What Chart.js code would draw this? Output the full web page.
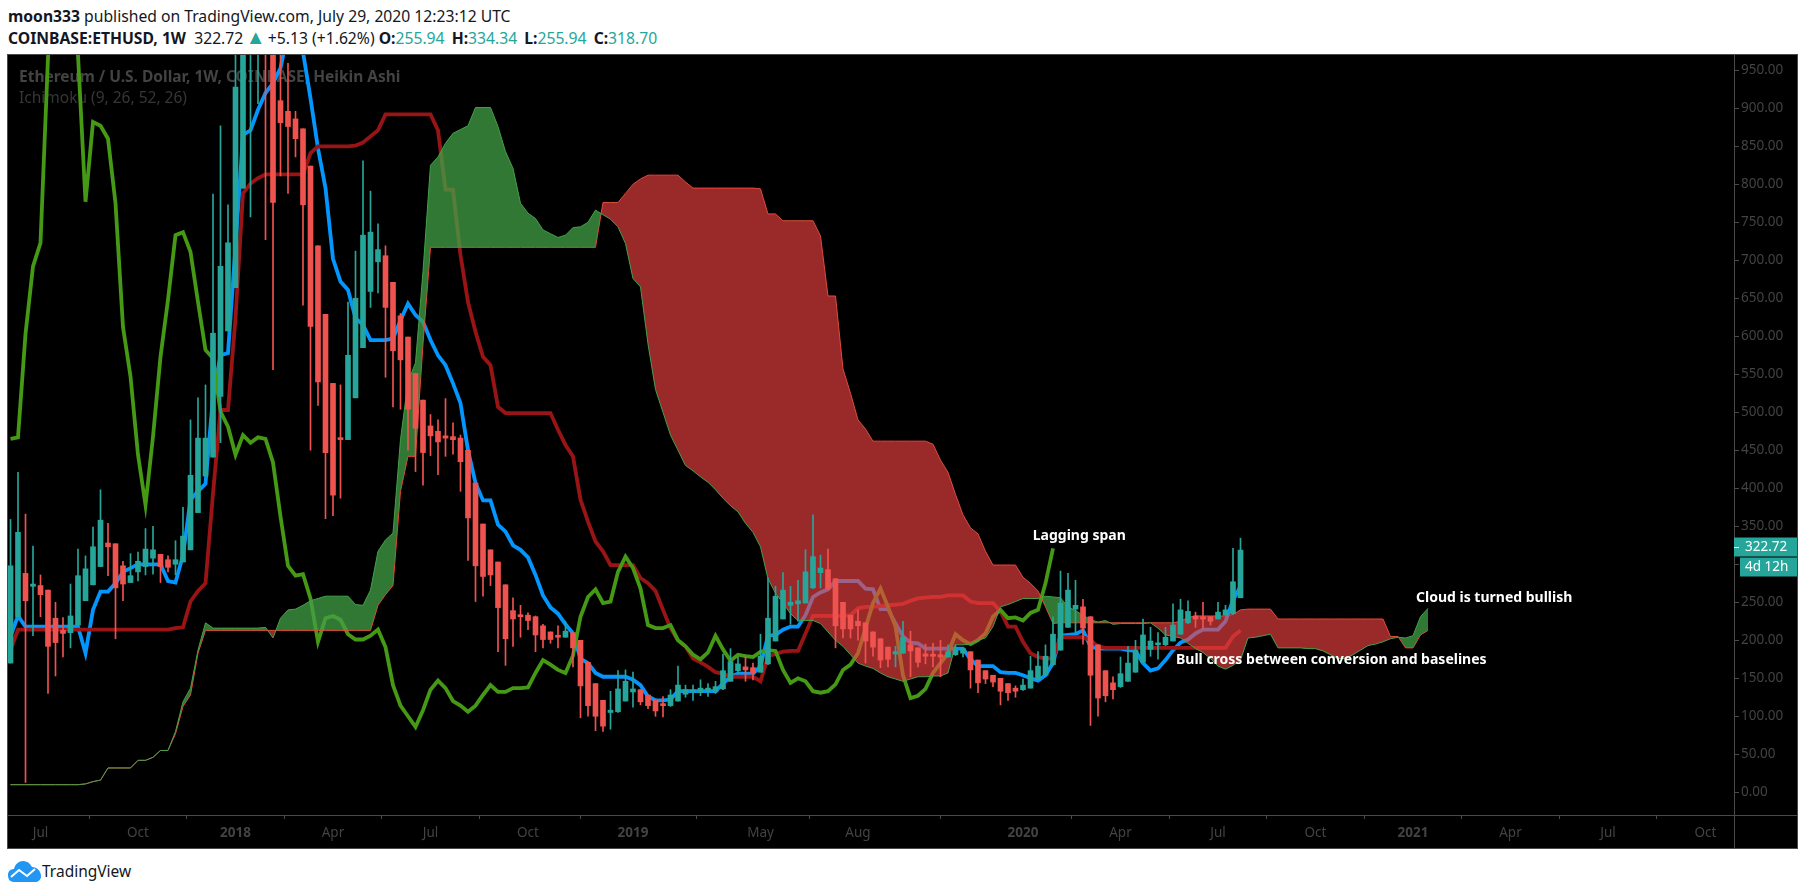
<!DOCTYPE html>
<html>
<head>
<meta charset="utf-8">
<title>ETHUSD Ichimoku</title>
<script src="https://cdn.jsdelivr.net/npm/chart.js@4"></script>
<style>
  html, body { margin: 0; padding: 0; background: #fff; overflow: hidden; }
  body { width: 1805px; height: 895px; position: relative; font-family: "Noto Sans", sans-serif; color: #131722; }
  .line { position: absolute; left: 8px; white-space: nowrap; font-size: 15.7px; line-height: 20px; }
  .teal { color: #26a69a; }
  .tri { font-size: 20px; line-height: 0; margin: 0 -1.7px; }
  .gap { margin-left: 3px; }
  b { font-weight: 700; }
  #frame { position: absolute; left: 7px; top: 54px; width: 1789px; height: 793px; background: #000; border: 1px solid #4a4a4a; }
  #chart { display: block; }
  #logo { position: absolute; left: 8px; top: 861px; }
  #logoText { position: absolute; left: 42px; top: 860px; font-size: 15.5px; line-height: 22px; }
</style>
</head>
<body>
<div class="line" style="top:6px"><b>moon333</b> published on TradingView.com, July 29, 2020 12:23:12 UTC</div>
<div class="line" style="top:28px"><b>COINBASE:ETHUSD, 1W</b>&nbsp; 322.72 <span class="teal tri">&#9650;</span> +5.13 (+1.62%) <b>O:</b><span class="teal">255.94</span> <b class="gap">H:</b><span class="teal">334.34</span> <b class="gap">L:</b><span class="teal">255.94</span> <b class="gap">C:</b><span class="teal">318.70</span></div>
<div id="frame"><canvas id="chart" width="1789" height="793"></canvas></div>
<svg id="logo" width="33" height="21" viewBox="0 0 33 21">
  <path d="M6 21 C1 21 0 17 0 14 C0 10 3 8 6 8 C7 3 11 0 15 0 C19 0 22 2 24 6 C29 6 33 10 33 15 C33 19 30 21 27 21 Z" fill="#2196f3"/>
  <path d="M3 16 L11 9 L19 15 L27 8" fill="none" stroke="#fff" stroke-width="2"/>
</svg>
<div id="logoText">TradingView</div>

<script>
// Heikin Ashi velas semanais, indice 0 = primeira vela visivel
const barOpen = [
  170, 231, 288, 271, 272, 266, 229, 213, 210, 220,
  252, 273, 297, 328, 327, 298, 276, 290, 297, 308,
  313, 306, 300, 303, 319, 368, 416, 441, 521, 607,
  664, 795, 1000, 1150, 1250, 1100, 910, 896, 886, 873,
  824, 719, 629, 538, 465, 464, 519, 585, 659, 698,
  706, 671, 627, 599, 551, 516, 482, 475, 469, 468,
  466, 450, 407, 353, 319, 303, 273, 239, 233, 233,
  231, 219, 211, 206, 204, 210, 200, 171, 143, 121,
  105, 106, 120, 132, 135, 128, 121, 115, 114, 120,
  129, 132, 131, 133, 132, 136, 146, 160, 165, 164,
  158, 169, 199, 228, 246, 248, 249, 269, 289, 293,
  281, 250, 233, 225, 223, 211, 202, 191, 182, 183,
  194, 190, 182, 181, 181, 178, 181, 183, 185, 174,
  160, 154, 150, 143, 137, 135, 137, 148, 154, 168,
  187, 217, 241, 244, 231, 194, 160, 144, 139, 146,
  158, 171, 188, 194, 194, 199, 208, 223, 232, 231,
  231, 228, 233, 235, 255.94,
];
const barHigh = [
  359, 421, 366, 324, 286, 266, 250, 230, 274, 320,
  311, 349, 398, 354, 327, 304, 314, 316, 347, 350,
  313, 311, 331, 375, 490, 519, 536, 787, 877, 773,
  1100, 1250, 1350, 1400, 1420, 1200, 1000, 959, 896, 873,
  824, 719, 629, 538, 536, 645, 712, 831, 791, 748,
  719, 671, 630, 599, 551, 516, 497, 490, 518, 486,
  470, 450, 407, 353, 319, 303, 273, 256, 246, 236,
  232, 221, 211, 219, 225, 210, 200, 171, 143, 121,
  133, 160, 161, 158, 135, 128, 121, 126, 135, 166,
  141, 141, 148, 143, 146, 182, 189, 178, 178, 170,
  208, 282, 271, 289, 271, 279, 319, 365, 312, 320,
  281, 250, 233, 240, 223, 211, 202, 191, 192, 225,
  212, 190, 195, 196, 200, 194, 194, 189, 185, 174,
  160, 154, 150, 143, 140, 149, 179, 185, 194, 231,
  291, 288, 279, 254, 231, 194, 160, 152, 178, 192,
  200, 228, 217, 210, 217, 248, 254, 252, 237, 250,
  231, 250, 246, 321, 334.34,
];
const barLow = [
  170, 231, 13, 206, 231, 130, 153, 178, 190, 220,
  252, 273, 297, 285, 202, 252, 276, 278, 286, 287,
  276, 290, 286, 303, 319, 368, 416, 441, 460, 607,
  664, 795, 757, 906, 727, 556, 811, 788, 836, 641,
  450, 509, 360, 364, 387, 464, 519, 585, 638, 657,
  546, 507, 504, 450, 422, 404, 443, 418, 442, 445,
  396, 305, 251, 258, 272, 185, 167, 192, 204, 214,
  185, 190, 196, 190, 204, 165, 98, 100, 81, 80,
  83, 105, 120, 112, 115, 110, 100, 99, 113, 120,
  125, 121, 127, 126, 130, 135, 146, 156, 146, 148,
  158, 168, 199, 228, 221, 225, 249, 268, 269, 267,
  190, 203, 203, 200, 170, 179, 164, 165, 165, 183,
  152, 165, 169, 165, 152, 178, 180, 178, 137, 131,
  143, 139, 115, 121, 125, 134, 137, 148, 154, 167,
  187, 217, 210, 195, 88, 100, 119, 123, 138, 146,
  158, 171, 179, 175, 193, 199, 208, 222, 217, 216,
  220, 228, 233, 234, 255.94,
];
const barClose = [
  298, 342, 252, 274, 260, 192, 197, 209, 232, 285,
  294, 323, 358, 323, 269, 274, 285, 304, 320, 319,
  297, 296, 306, 337, 417, 466, 466, 604, 692, 723,
  928, 1100, 1200, 1250, 1100, 776, 881, 876, 860, 773,
  613, 540, 447, 391, 464, 575, 650, 733, 737, 714,
  638, 581, 569, 504, 479, 447, 469, 461, 466, 464,
  435, 361, 298, 284, 286, 243, 202, 228, 231, 226,
  207, 201, 201, 204, 212, 190, 140, 114, 100, 87,
  108, 136, 146, 136, 119, 114, 107, 114, 128, 141,
  135, 134, 137, 137, 139, 160, 172, 169, 161, 157,
  179, 229, 258, 266, 250, 252, 290, 310, 295, 268,
  219, 215, 215, 219, 199, 191, 174, 175, 185, 204,
  186, 171, 179, 179, 178, 185, 187, 189, 161, 144,
  149, 145, 133, 131, 133, 141, 160, 166, 179, 208,
  249, 266, 246, 216, 154, 124, 127, 135, 156, 170,
  187, 207, 199, 196, 204, 220, 240, 238, 228, 228,
  225, 237, 240, 277, 318.7,
];

// Linhas do Ichimoku
const tenkan = [
  205, 232, 218, 218, 218, 218, 218, 218, 218, 218,
  183, 240, 264, 264, 275, 290, 295, 300, 300, 300,
  300, 278, 276, 312, 385, 396, 406, 520, 575, 578,
  718, 865, 871, 898, 920, 933, 953, 1000, 1000, 974,
  913, 847, 795, 702, 672, 661, 624, 615, 595, 595,
  595, 597, 621, 643, 628, 619, 595, 575, 562, 538,
  512, 450, 407, 384, 384, 352, 343, 325, 319, 309,
  286, 259, 243, 235, 221, 209, 176, 170, 157, 152,
  152, 152, 152, 148, 141, 126, 121, 121, 122, 133,
  133, 133, 133, 133, 133, 143, 152, 156, 156, 156,
  166, 206, 207, 214, 218, 218, 233, 257, 263, 267,
  278, 278, 278, 278, 268, 267, 241, 241, 222, 205,
  197, 196, 189, 189, 189, 189, 189, 189, 175, 166,
  166, 166, 158, 157, 157, 154, 150, 147, 154, 170,
  206, 207, 208, 213, 192, 189, 189, 189, 189, 187,
  186, 170, 160, 163, 174, 187, 197, 201, 209, 214,
  214, 214, 225, 253, 271,
];
const kijun = [
  187, 214, 214, 214, 214, 214, 214, 214, 214, 214,
  214, 214, 214, 214, 214, 214, 214, 214, 214, 214,
  214, 214, 216, 217, 251, 265, 275, 393, 503, 503,
  624, 788, 801, 808, 813, 813, 813, 813, 813, 813,
  841, 850, 850, 850, 850, 850, 851, 855, 863, 871,
  892, 892, 892, 892, 892, 892, 892, 871, 793, 793,
  707, 645, 606, 573, 562, 507, 499, 499, 499, 499,
  499, 499, 499, 477, 457, 442, 385, 356, 330, 317,
  299, 299, 299, 299, 282, 275, 265, 240, 216, 200,
  192, 176, 171, 165, 158, 156, 152, 152, 152, 152,
  146, 179, 182, 185, 186, 186, 209, 232, 232, 232,
  232, 232, 233, 242, 244, 244, 245, 246, 247, 248,
  252, 255, 256, 257, 257, 259, 259, 259, 251, 249,
  249, 249, 238, 218, 218, 198, 183, 178, 176, 176,
  204, 204, 204, 204, 200, 192, 190, 190, 190, 190,
  190, 190, 190, 190, 190, 190, 190, 190, 190, 190,
  190, 190, 190, 205, 213,
];
const lagging = [
  465, 467, 603, 692, 723, 967, 1100, 1200, 1100, 970,
  777, 882, 877, 860, 775, 612, 547, 444, 378, 468,
  573, 648, 733, 737, 711, 645, 582, 571, 501, 481,
  444, 470, 460, 467, 465, 434, 363, 298, 285, 287,
  255, 198, 229, 232, 227, 208, 201, 201, 206, 214,
  191, 141, 114, 100, 86, 108, 135, 147, 137, 120,
  114, 106, 114, 128, 141, 132, 132, 137, 137, 138,
  157, 174, 168, 161, 157, 180, 231, 257, 267, 249,
  251, 290, 310, 295, 268, 220, 216, 216, 220, 200,
  192, 181, 175, 184, 206, 188, 173, 181, 179, 178,
  185, 187, 186, 161, 144, 150, 146, 133, 131, 133,
  142, 161, 168, 183, 216, 249, 268, 244, 218, 154,
  124, 127, 136, 157, 170, 183, 208, 200, 195, 200,
  209, 231, 240, 229, 230, 226, 236, 240, 275, 321,
];
const spanA = [
  10, 10, 10, 10, 10, 10, 10, 10, 10, 10,
  11, 14, 16, 32, 32, 32, 32, 42, 42, 46,
  55, 55, 80, 119, 137, 187, 223, 216, 216, 216,
  216, 216, 216, 216, 217, 203, 229, 240, 241, 246,
  252, 255, 258, 258, 258, 258, 247, 246, 266, 317,
  332, 341, 464, 540, 565, 685, 825, 836, 854, 867,
  872, 877, 901, 901, 901, 876, 843, 821, 775, 762,
  755, 740, 735, 730, 733, 743, 744, 750, 766, 760,
  754, 744, 722, 676, 665, 590, 530, 500, 470, 450,
  430, 423, 415, 408, 398, 387, 377, 369, 354, 342,
  323, 281, 262, 249, 235, 226, 226, 226, 222, 211,
  200, 192, 181, 170, 166, 163, 157, 152, 149, 146,
  149, 152, 152, 153, 153, 157, 194, 194, 195, 200,
  203, 218, 244, 247, 251, 255, 255, 255, 258, 257,
  256, 244, 239, 233, 227, 224, 226, 221, 222, 222,
  222, 222, 223, 216, 207, 205, 203, 196, 189, 184,
  176, 166, 162, 167, 174, 203, 204, 206, 208, 190,
  190, 190, 190, 189, 189, 186, 181, 176, 176, 181,
  187, 193, 195, 198, 202, 204, 203, 206, 231, 242,
];
const spanB = [
  10, 10, 10, 10, 10, 10, 10, 10, 10, 10,
  11, 14, 16, 32, 32, 32, 32, 42, 42, 46,
  55, 55, 77, 113, 128, 183, 213, 213, 213, 213,
  213, 213, 213, 213, 213, 213, 213, 213, 213, 213,
  213, 213, 213, 213, 213, 213, 213, 213, 213, 246,
  260, 272, 396, 442, 442, 590, 717, 717, 717, 717,
  717, 717, 717, 717, 717, 717, 717, 717, 717, 717,
  717, 717, 717, 717, 717, 717, 717, 717, 717, 776,
  776, 776, 788, 800, 807, 812, 812, 812, 812, 812,
  803, 795, 795, 795, 795, 795, 795, 795, 795, 795,
  794, 761, 761, 752, 752, 752, 752, 752, 732, 653,
  653, 557, 525, 490, 478, 462, 462, 462, 462, 462,
  462, 462, 462, 458, 437, 421, 392, 365, 348, 340,
  317, 299, 299, 299, 299, 283, 275, 265, 244, 222,
  223, 223, 223, 223, 223, 223, 223, 223, 223, 223,
  223, 223, 223, 223, 223, 223, 225, 230, 232, 232,
  232, 232, 232, 234, 240, 241, 241, 241, 241, 228,
  228, 228, 228, 228, 228, 228, 228, 228, 228, 228,
  228, 228, 228, 228, 205, 205, 190, 190, 207, 213,
];

// Eixos
const priceTicks = [0, 50, 100, 150, 200, 250, 300, 350, 400, 450, 500, 550, 600, 650, 700, 750, 800, 850, 900, 950];
const timeTickBars = [4, 17, 30, 43, 56, 69, 83, 100, 113, 135, 148, 161, 174, 187, 200, 213, 226];
const timeTickLabels = ["Jul", "Oct", "2018", "Apr", "Jul", "Oct", "2019", "May", "Aug", "2020", "Apr", "Jul", "Oct", "2021", "Apr", "Jul", "Oct"];
const lastPrice = 322.72;

// Anotacoes (texto, vela, preco)
const noteTexts = ["Lagging span", "Bull cross between conversion and baselines", "Cloud is turned bullish"];
const noteBars = [136.3, 155.4, 187.4];
const notePrices = [337.3, 174, 255.7];

const UP = "#26a69a";
const DOWN = "#ef5350";
const AXIS = "#4a4a4a";
const TEXT = "#434343";
const FONT = '"Noto Sans", sans-serif';

const candleColors = barClose.map((c, i) => (c >= barOpen[i] ? UP : DOWN));

function linePoints(values) {
  return values.map((y, x) => ({ x, y }));
}

function linha(label, values, color, width, order) {
  return {
    type: "line",
    label,
    data: linePoints(values),
    borderColor: color,
    borderWidth: width,
    pointRadius: 0,
    tension: 0,
    fill: false,
    order,
  };
}

function labelDaMarca(value) {
  return timeTickLabels[timeTickBars.indexOf(value)];
}

// Fundo: marca d'agua do grafico
const watermarkPlugin = {
  id: "watermark",
  beforeDatasetsDraw(chart) {
    const c = chart.ctx;
    c.save();
    c.textBaseline = "middle";
    c.fillStyle = "#434343";
    c.font = "bold 15.5px " + FONT;
    c.fillText("Ethereum / U.S. Dollar, 1W, COINBASE, Heikin Ashi", 11, 23);
    c.fillStyle = "#363636";
    c.font = "15.5px " + FONT;
    c.fillText("Ichimoku (9, 26, 52, 26)", 11, 44);
    c.restore();
  },
};

// Textos brancos, linhas dos eixos e etiquetas de preco
const overlayPlugin = {
  id: "overlay",
  afterDraw(chart) {
    const c = chart.ctx;
    const x = chart.scales.x;
    const y = chart.scales.y;
    const a = chart.chartArea;
    c.save();
    c.textBaseline = "middle";
    c.fillStyle = "#fff";
    c.font = "bold 14px " + FONT;
    noteTexts.forEach((t, i) => {
      c.fillText(t, x.getPixelForValue(noteBars[i]), y.getPixelForValue(notePrices[i]));
    });

    c.strokeStyle = AXIS;
    c.lineWidth = 1;
    c.beginPath();
    c.moveTo(a.left, a.bottom + 0.5);
    c.lineTo(chart.width, a.bottom + 0.5);
    c.moveTo(a.right + 0.5, a.top);
    c.lineTo(a.right + 0.5, chart.height);
    c.stroke();

    const py = y.getPixelForValue(lastPrice);
    c.fillStyle = UP;
    c.fillRect(a.right, py - 9.5, chart.width - a.right, 19);
    c.fillRect(a.right + 6, py + 10.5, chart.width - a.right - 6, 19);
    c.fillStyle = "#fff";
    c.fillRect(a.right, py, 5, 1);
    c.font = "13.5px " + FONT;
    c.fillText(lastPrice.toFixed(2), a.right + 11, py);
    c.fillText("4d 12h", a.right + 11, py + 20);
    c.restore();
  },
};

new Chart(document.getElementById("chart").getContext("2d"), {
  type: "bar",
  data: {
    datasets: [
      // velas por cima de tudo
      {
        label: "Corpo",
        data: barOpen.map((o, i) => ({ x: i, y: [o, barClose[i]] })),
        backgroundColor: candleColors,
        barThickness: 5,
        minBarLength: 2,
        grouped: false,
        order: 1,
      },
      {
        label: "Pavio",
        data: barLow.map((l, i) => ({ x: i, y: [l, barHigh[i]] })),
        backgroundColor: candleColors,
        barThickness: 1,
        grouped: false,
        order: 2,
      },
      // nuvem translucida sobre as linhas
      {
        ...linha("Lead 1", spanA, "#43a047", 1, 5),
        fill: { target: "+1", above: "rgba(67, 160, 71, 0.75)", below: "rgba(244, 67, 67, 0.63)" },
      },
      linha("Lead 2", spanB, "#f44336", 1, 6),
      linha("Lagging Span", lagging, "#459915", 3.8, 10),
      linha("Base Line", kijun, "#991515", 3.8, 11),
      linha("Conversion Line", tenkan, "#0496ff", 3.8, 12),
    ],
  },
  plugins: [watermarkPlugin, overlayPlugin],
  options: {
    responsive: false,
    animation: false,
    devicePixelRatio: 1,
    layout: { padding: 0 },
    plugins: { legend: { display: false }, title: { display: false }, tooltip: { enabled: false } },
    scales: {
      x: {
        type: "linear",
        min: -0.3333,
        max: 229.8,
        offset: false,
        grid: { display: true, drawOnChartArea: false, color: AXIS, tickLength: 4 },
        border: { color: AXIS },
        afterBuildTicks: (scale) => {
          scale.ticks = timeTickBars.map((value) => ({ value }));
        },
        afterFit: (scale) => {
          scale.height = 33;
          scale.paddingLeft = 0;
          scale.paddingRight = 0;
        },
        ticks: {
          autoSkip: false,
          maxRotation: 0,
          padding: 6,
          color: TEXT,
          font: (ctx) => ({
            family: FONT,
            size: 13.5,
            weight: /^\d{4}$/.test(labelDaMarca(ctx.tick && ctx.tick.value)) ? "bold" : "normal",
          }),
          callback: (value) => labelDaMarca(value),
        },
      },
      y: {
        position: "right",
        min: -29.9,
        max: 970.1,
        grid: { display: true, drawOnChartArea: false, color: AXIS, tickLength: 5 },
        border: { color: AXIS },
        afterBuildTicks: (scale) => {
          scale.ticks = priceTicks.map((value) => ({ value }));
        },
        afterFit: (scale) => {
          scale.width = 63;
          scale.paddingTop = 0;
          scale.paddingBottom = 0;
        },
        ticks: {
          autoSkip: false,
          padding: 2,
          color: TEXT,
          font: { family: FONT, size: 13.5 },
          callback: (value) => value.toFixed(2),
        },
      },
    },
  },
});
</script>
</body>
</html>
